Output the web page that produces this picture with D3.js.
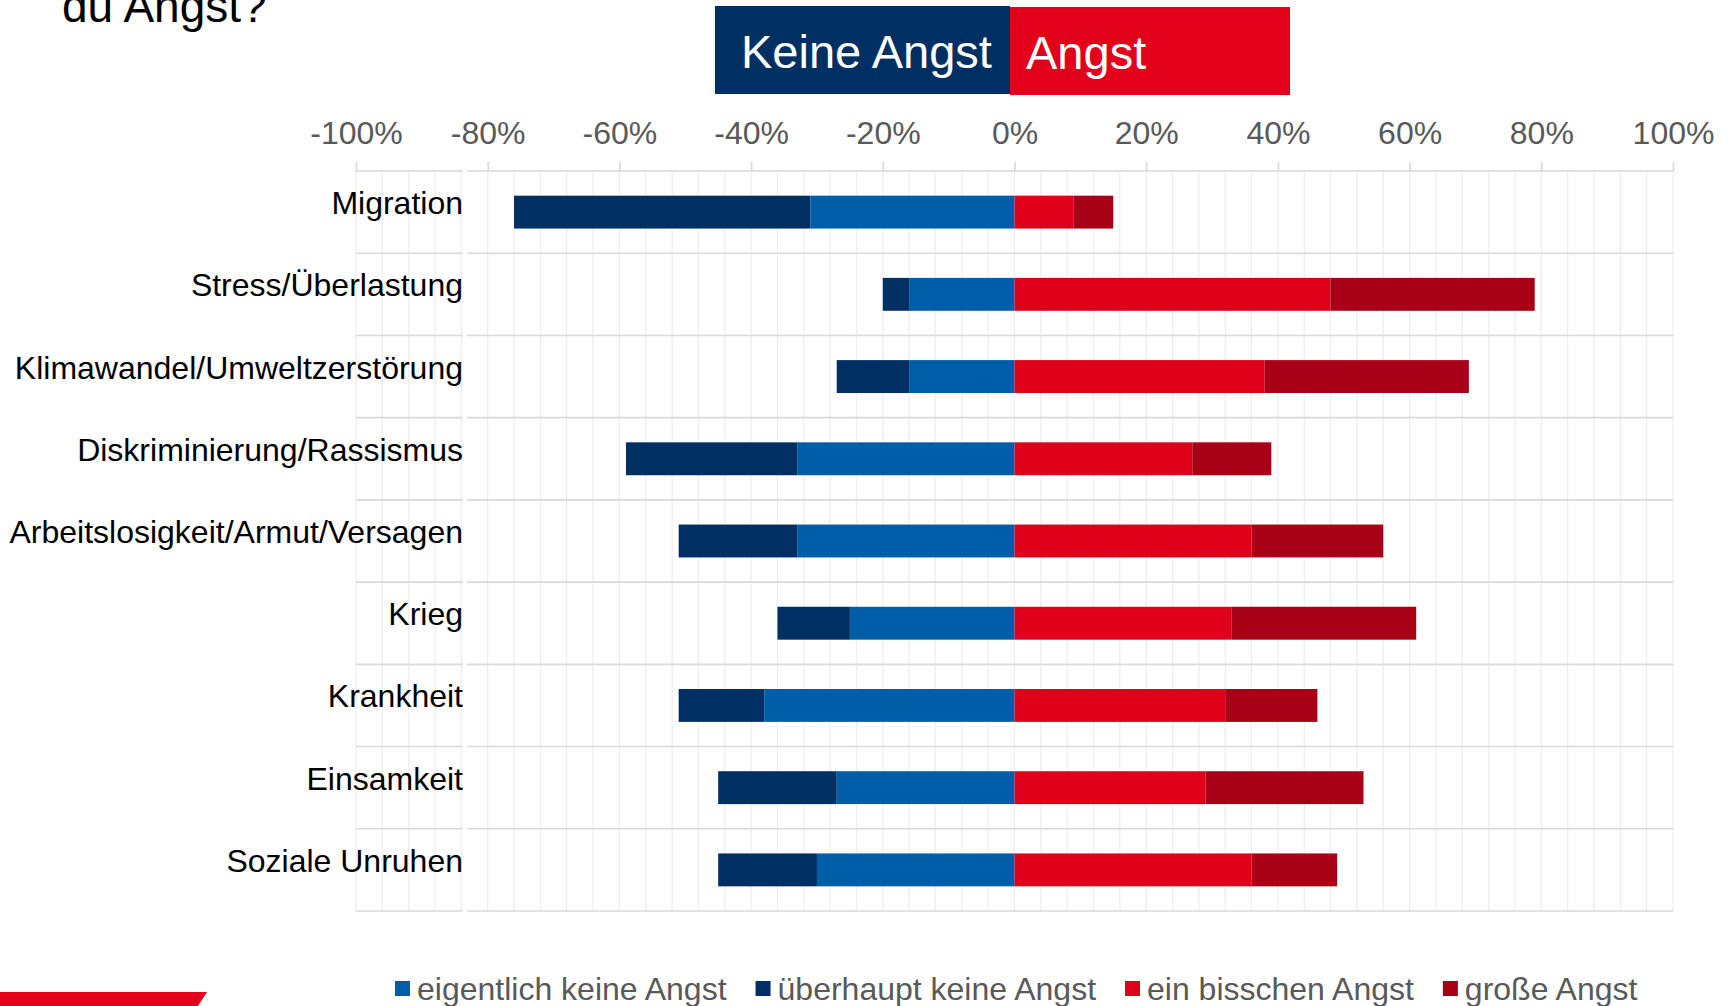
<!DOCTYPE html>
<html>
<head>
<meta charset="utf-8">
<script src="https://cdn.jsdelivr.net/npm/d3@7"></script>
<style>
  html, body { margin: 0; padding: 0; background: #fff; overflow: hidden; }
  svg { display: block; font-family: "Liberation Sans", Arial, sans-serif; }
</style>
</head>
<body>
<svg id="chart" width="1730" height="1006"></svg>
<script>
// ---- data ----
const categories = ["Migration", "Stress/Überlastung", "Klimawandel/Umweltzerstörung",
  "Diskriminierung/Rassismus", "Arbeitslosigkeit/Armut/Versagen", "Krieg",
  "Krankheit", "Einsamkeit", "Soziale Unruhen"];
const eigentlichKeine = [31, 16, 16, 33, 33, 25, 38, 27, 30];
const ueberhauptKeine = [45, 4, 11, 26, 18, 11, 13, 18, 15];
const einBisschen = [9, 48, 38, 27, 36, 33, 32, 29, 36];
const grosse = [6, 31, 31, 12, 20, 28, 14, 24, 13];
const seriesNames = ["eigentlich keine Angst", "überhaupt keine Angst", "ein bisschen Angst", "große Angst"];
const xTicks = [-100, -80, -60, -40, -20, 0, 20, 40, 60, 80, 100];
const titleText = "du Angst?";
const headerLabels = ["Keine Angst", "Angst"];

// ---- styles ----
const colors = ["#005ea8", "#003063", "#e0001a", "#a80016"];
const svg = d3.select("#chart");
svg.append("rect").attr("width", 1730).attr("height", 1006).attr("fill", "#fff");

const x = d3.scaleLinear().domain([-100, 100]).range([356, 1673]);
const y = d3.scaleBand().domain(categories).range([171, 911]).paddingInner(0.6).paddingOuter(0.3);
const step = y.step();
const plotTop = 171, plotBottom = 911;

// minor vertical grid lines
const minor = d3.range(-100, 101, 4);
svg.append("g").selectAll("line").data(minor).join("line")
  .attr("x1", d => x(d)).attr("x2", d => x(d))
  .attr("y1", plotTop).attr("y2", plotBottom)
  .attr("stroke", "#eeeeee").attr("stroke-width", 1.3);

// horizontal separators (with small gap near label edge)
const hLines = d3.range(0, categories.length + 1).map(i => plotTop + i * step);
const hg = svg.append("g");
hLines.forEach(yy => {
  hg.append("line").attr("x1", x(-100)).attr("x2", 463).attr("y1", yy).attr("y2", yy)
    .attr("stroke", "#d9d9d9").attr("stroke-width", 1.6);
  hg.append("line").attr("x1", 467).attr("x2", x(100)).attr("y1", yy).attr("y2", yy)
    .attr("stroke", "#d9d9d9").attr("stroke-width", 1.6);
});

// top axis
const axis = d3.axisTop(x).tickValues(xTicks).tickFormat(d => d + "%").tickSize(9).tickPadding(18);
const ag = svg.append("g").attr("transform", `translate(0,${plotTop})`).call(axis);
ag.select(".domain").remove();
ag.selectAll(".tick line").attr("stroke", "#d9d9d9").attr("stroke-width", 1.6);
ag.selectAll(".tick text").attr("fill", "#595959").attr("font-size", 32)
  .attr("font-family", "'Liberation Sans', Arial, sans-serif");

// bars
const rows = categories.map((c, i) => {
  const segs = [];
  segs.push({ s: 0, x0: -eigentlichKeine[i], x1: 0 });
  segs.push({ s: 1, x0: -eigentlichKeine[i] - ueberhauptKeine[i], x1: -eigentlichKeine[i] });
  segs.push({ s: 2, x0: 0, x1: einBisschen[i] });
  segs.push({ s: 3, x0: einBisschen[i], x1: einBisschen[i] + grosse[i] });
  return { c, segs };
});
const bg = svg.append("g");
rows.forEach(r => {
  bg.selectAll(null).data(r.segs).join("rect")
    .attr("x", d => x(d.x0)).attr("width", d => x(d.x1) - x(d.x0))
    .attr("y", y(r.c)).attr("height", y.bandwidth())
    .attr("fill", d => colors[d.s]);
});

// category labels
svg.append("g").selectAll("text").data(categories).join("text")
  .attr("x", 463).attr("y", d => y(d) + y.bandwidth() / 2 + 2)
  .attr("text-anchor", "end").attr("font-size", 32).attr("fill", "#000")
  .text(d => d);

// title (partially cut off)
svg.append("text").attr("x", 62).attr("y", 22).attr("font-size", 46).attr("fill", "#000").text(titleText);

// header boxes
svg.append("rect").attr("x", 715).attr("y", 6).attr("width", 295).attr("height", 88).attr("fill", "#003063");
svg.append("rect").attr("x", 1010).attr("y", 7).attr("width", 280).attr("height", 88).attr("fill", "#e2001a");
svg.append("text").attr("x", 741).attr("y", 68).attr("font-size", 47).attr("fill", "#fff").text(headerLabels[0]);
svg.append("text").attr("x", 1026).attr("y", 69).attr("font-size", 47).attr("fill", "#fff").text(headerLabels[1]);

// legend
const lg = svg.append("g");
let lx = 395;
seriesNames.forEach((n, i) => {
  lg.append("rect").attr("x", lx).attr("y", 981).attr("width", 15).attr("height", 15).attr("fill", colors[i]);
  const t = lg.append("text").attr("x", lx + 22).attr("y", 1000).attr("font-size", 32)
    .attr("fill", "#595959").text(n);
  lx = lx + 22 + t.node().getComputedTextLength() + 29;
});

// decorative red shape bottom-left
svg.append("path").attr("d", "M0,992 L207,992 L198,1006 L0,1006 Z").attr("fill", "#e2001a");
</script>
</body>
</html>
